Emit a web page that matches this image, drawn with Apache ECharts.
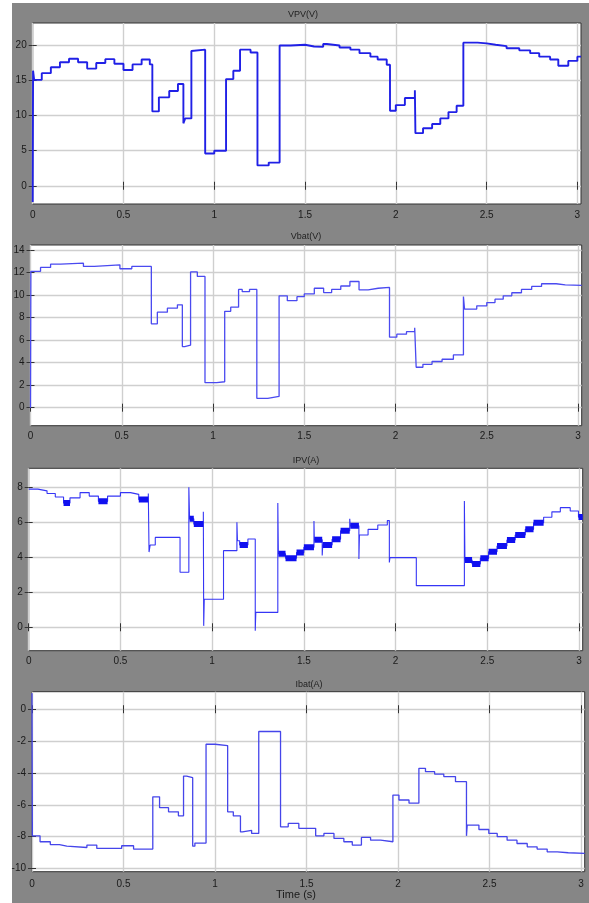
<!DOCTYPE html>
<html><head><meta charset="utf-8">
<script src="https://cdn.jsdelivr.net/npm/echarts@6/dist/echarts.min.js"></script>
<style>html,body{margin:0;padding:0;background:#fff}#c{width:589px;height:903px}</style>
</head><body><div id="c"></div>
<script>
// ---- tick labels ----
const xTicks = [0, 0.5, 1, 1.5, 2, 2.5, 3];
const vpvTicks = [0, 5, 10, 15, 20];
const vbatTicks = [0, 2, 4, 6, 8, 10, 12, 14];
const ipvTicks = [0, 2, 4, 6, 8];
const ibatTicks = [-10, -8, -6, -4, -2, 0];
const titles = ['VPV(V)', 'Vbat(V)', 'IPV(A)', 'Ibat(A)'];
const xTitle = 'Time (s)';

// ---- VPV (V): step start times and levels ----
const vpvT = [0,0.002,0.008,0.05,0.1,0.15,0.2,0.25,0.3,0.35,0.4,0.45,0.5,0.55,0.6,0.645,0.659,0.695,0.752,0.8,0.83,0.84,0.874,0.885,0.95,1.0,1.065,1.105,1.142,1.2,1.238,1.3,1.36,1.42,1.5,1.55,1.6,1.62,1.69,1.75,1.8,1.86,1.9,1.95,1.968,2.0,2.05,2.105,2.108,2.15,2.2,2.245,2.29,2.335,2.372,2.45,2.5,2.55,2.61,2.68,2.74,2.79,2.85,2.895,2.95,3.0,3.02];
const vpvV = [-2.3,16.4,15.1,16.05,16.9,17.6,18.1,17.6,16.7,17.5,18.05,17.4,16.5,17.3,18.0,17.3,10.6,12.6,13.5,14.5,8.9,9.6,19.2,19.4,4.6,5.0,15.2,16.4,19.4,19.0,2.9,3.3,20.0,20.1,19.85,19.8,20.2,20.0,19.7,19.4,18.9,18.4,18.0,17.25,10.7,11.5,12.5,13.6,7.5,8.2,8.8,9.6,10.5,11.4,20.4,20.3,20.1,19.9,19.6,19.3,18.9,18.4,18.0,17.1,17.8,18.4,18.4];

// ---- Vbat (V) ----
const vbatT = [0,0.002,0.055,0.11,0.165,0.29,0.35,0.49,0.555,0.662,0.695,0.75,0.805,0.832,0.845,0.877,0.914,0.956,1.02,1.064,1.097,1.14,1.16,1.2,1.24,1.3,1.362,1.407,1.46,1.5,1.555,1.606,1.65,1.7,1.75,1.8,1.85,1.905,1.967,2.007,2.06,2.105,2.113,2.15,2.2,2.255,2.317,2.372,2.378,2.445,2.5,2.545,2.59,2.637,2.69,2.746,2.8,2.88,2.93,3.02];
const vbatV = [0,12.1,12.45,12.74,12.83,12.54,12.68,12.33,12.54,7.44,8.48,8.83,9.13,5.42,5.55,12.05,11.65,2.22,2.3,8.55,8.92,10.5,10.3,10.5,0.83,1.0,9.93,9.5,9.85,10.1,10.6,10.22,10.5,10.8,11.2,10.46,10.6,10.67,6.26,6.52,6.75,7.1,3.59,3.85,4.1,4.3,4.68,9.87,8.75,9.04,9.33,9.63,9.93,10.2,10.5,10.76,11.0,10.9,10.85,10.85];

// ---- IPV (A) ---- (ipvRipple: 1 = segment shows thick ripple band)
const ipvT = [0,0.05,0.1,0.145,0.19,0.225,0.28,0.33,0.38,0.43,0.5,0.555,0.6,0.652,0.656,0.662,0.69,0.825,0.873,0.877,0.9,0.952,0.954,0.957,1.062,1.135,1.138,1.15,1.195,1.235,1.238,1.358,1.361,1.4,1.46,1.5,1.555,1.557,1.6,1.603,1.654,1.7,1.75,1.753,1.8,1.803,1.85,1.903,1.955,1.966,1.969,2.113,2.375,2.378,2.417,2.462,2.507,2.553,2.607,2.652,2.707,2.752,2.807,2.852,2.898,2.952,2.997,3.02];
const ipvV = [7.9,7.8,7.65,7.45,7.1,7.4,7.7,7.5,7.2,7.5,7.7,7.6,7.3,7.65,4.3,4.7,5.14,3.15,8.0,6.2,5.9,6.6,0.08,1.6,4.38,6.0,4.95,4.7,5.05,-0.2,0.85,7.1,4.2,3.95,4.27,4.57,6.08,5.0,4.1,4.7,5.03,5.52,6.2,5.8,3.9,5.28,5.6,5.85,6.1,3.7,3.98,2.38,7.22,3.85,3.62,3.94,4.32,4.65,4.99,5.28,5.6,5.98,6.29,6.6,6.84,6.65,6.3,6.3];
const ipvRipple = [0,0,0,0,1,0,0,0,1,0,0,0,1,0,0,0,0,0,0,1,1,0,0,0,0,0,0,1,0,0,0,0,1,1,1,1,0,1,0,1,1,1,0,1,0,0,0,0,0,0,0,0,0,1,1,1,1,1,1,1,1,1,0,0,0,0,1,0];

// ---- Ibat (A) ----
const ibatT = [0,0.002,0.044,0.1,0.15,0.19,0.3,0.354,0.49,0.555,0.66,0.697,0.746,0.8,0.828,0.845,0.878,0.89,0.951,1.0,1.069,1.1,1.139,1.15,1.2,1.239,1.358,1.4,1.458,1.55,1.595,1.65,1.704,1.75,1.8,1.85,1.905,1.972,2.005,2.06,2.114,2.15,2.2,2.25,2.314,2.374,2.378,2.442,2.496,2.542,2.596,2.65,2.706,2.76,2.815,2.87,2.93,3.02];
const ibatV = [1.0,-7.95,-8.32,-8.5,-8.6,-8.68,-8.53,-8.74,-8.57,-8.78,-5.5,-6.18,-6.44,-6.69,-4.2,-4.3,-8.6,-8.4,-2.2,-2.28,-6.44,-6.7,-7.7,-7.6,-7.8,-1.4,-7.38,-7.17,-7.48,-7.95,-7.8,-8.11,-8.32,-8.53,-8.05,-8.22,-8.32,-5.39,-5.7,-5.9,-3.71,-3.92,-4.07,-4.23,-4.55,-7.95,-7.27,-7.55,-7.8,-8.0,-8.22,-8.43,-8.64,-8.78,-8.95,-9.01,-9.05,-9.05];

// ---- build ----
const zip = (t, v) => t.map((x, i) => [x, v[i]]);
function rippleData(t, v, f) {
  const out = [];
  for (let i = 0; i < t.length - 1; i++) {
    if (f[i]) { out.push([t[i], v[i]], [t[i + 1], v[i]], [t[i + 1], '-']); }
  }
  return out;
}

const panels = [
  { left: 32.7, top: 23, width: 548.3, height: 181, yMin: -2.6, yMax: 23.2, ticks: vpvTicks, tx: 303, ty: 15, lm: 6 },
  { left: 30.5, top: 245, width: 551.2, height: 180.7, yMin: -1.6, yMax: 14.44, ticks: vbatTicks, tx: 306, ty: 237, lm: 6 },
  { left: 28.7, top: 468.3, width: 554, height: 182.4, yMin: -1.34, yMax: 9.09, ticks: ipvTicks, tx: 306, ty: 461, lm: 6 },
  { left: 32, top: 691.7, width: 552.7, height: 180, yMin: -10.2, yMax: 1.1, ticks: ibatTicks, tx: 309, ty: 685, lm: 8 }
];
const xMax = 3.02;
const labelStyle = { color: '#1a1a1a', fontSize: 10, fontFamily: 'Liberation Sans, Arial, sans-serif' };
const grid = [], xAxis = [], yAxis = [], graphic = [];
panels.forEach((p, i) => {
  grid.push({ left: p.left, top: p.top, width: p.width, height: p.height, show: true,
    backgroundColor: '#ffffff', borderColor: '#333', borderWidth: 1, containLabel: false, outerBoundsMode: 'none' });
  const xBase = { type: 'value', gridIndex: i, min: 0, max: xMax, axisLine: { show: false } };
  xAxis.push(Object.assign({}, xBase, { position: 'bottom',
    axisTick: { show: true, inside: true, length: 4, customValues: xTicks, lineStyle: { color: '#333' } },
    axisLabel: Object.assign({ customValues: xTicks, margin: p.lm }, labelStyle),
    splitLine: { show: true, lineStyle: { color: '#cfcfcf', width: 1.4 } } }));
  xAxis.push(Object.assign({}, xBase, { position: 'top',
    axisTick: { show: true, inside: true, length: 4, customValues: xTicks, lineStyle: { color: '#333' } },
    axisLabel: { show: false }, splitLine: { show: false } }));
  const yBase = { type: 'value', gridIndex: i, min: p.yMin, max: p.yMax, axisLine: { show: false } };
  yAxis.push(Object.assign({}, yBase, { position: 'left',
    axisTick: { show: true, inside: true, length: 4, customValues: p.ticks, lineStyle: { color: '#333' } },
    axisLabel: Object.assign({ customValues: p.ticks, margin: 6 }, labelStyle),
    splitLine: { show: true, lineStyle: { color: '#cfcfcf', width: 1.4 } } }));
  yAxis.push(Object.assign({}, yBase, { position: 'right',
    axisTick: { show: true, inside: true, length: 4, customValues: p.ticks, lineStyle: { color: '#333' } },
    axisLabel: { show: false }, splitLine: { show: false } }));
  graphic.push({ type: 'text', x: p.tx, y: p.ty, style: { text: titles[i], align: 'center', verticalAlign: 'middle',
    fill: '#222', font: '9px Liberation Sans, Arial, sans-serif' } });
});
graphic.push({ type: 'text', x: 296, y: 895, style: { text: xTitle, align: 'center', verticalAlign: 'middle',
  fill: '#1a1a1a', font: '11px Liberation Sans, Arial, sans-serif' } });
graphic.push({ type: 'rect', shape: { x: 0, y: 0, width: 12, height: 903 }, style: { fill: '#ffffff' }, z: -1 });
graphic.push({ type: 'rect', shape: { x: 0, y: 0, width: 589, height: 3 }, style: { fill: '#ffffff' }, z: -1 });

const lineBase = { type: 'line', showSymbol: false, step: 'end', animation: false, silent: true };
const series = [
  Object.assign({}, lineBase, { xAxisIndex: 0, yAxisIndex: 0, data: zip(vpvT, vpvV), lineStyle: { color: '#2020e6', width: 1.9 } }),
  Object.assign({}, lineBase, { xAxisIndex: 2, yAxisIndex: 2, data: zip(vbatT, vbatV), lineStyle: { color: '#4a4af0', width: 1.3 } }),
  Object.assign({}, lineBase, { xAxisIndex: 4, yAxisIndex: 4, data: zip(ipvT, ipvV), lineStyle: { color: '#3636f5', width: 1.1 } }),
  { type: 'line', showSymbol: false, animation: false, silent: true, xAxisIndex: 4, yAxisIndex: 4,
    data: rippleData(ipvT, ipvV, ipvRipple), connectNulls: false, lineStyle: { color: '#1010f0', width: 6, cap: 'butt' } },
  Object.assign({}, lineBase, { xAxisIndex: 6, yAxisIndex: 6, data: zip(ibatT, ibatV), lineStyle: { color: '#4545ea', width: 1.3 } })
];

const chart = echarts.init(document.getElementById('c'), null, { renderer: 'canvas' });
chart.setOption({ backgroundColor: '#868686', animation: false, grid, xAxis, yAxis, series, graphic });
</script></body></html>
